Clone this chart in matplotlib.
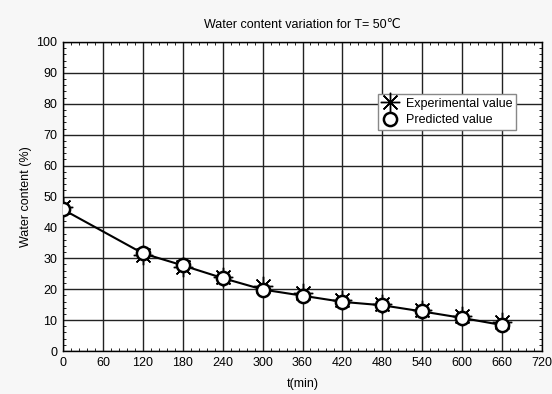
import numpy as np
import matplotlib
matplotlib.use('Agg')
import matplotlib.pyplot as plt
from matplotlib.ticker import MultipleLocator

plt.rcParams['font.family'] = ['Liberation Sans', 'DejaVu Sans']

# data
t_min = [0, 120, 180, 240, 300, 360, 420, 480, 540, 600, 660]
experimental = [46.7, 31.0, 27.3, 24.0, 21.0, 18.9, 16.5, 15.3, 13.2, 11.2, 9.5]
predicted = [45.8, 31.6, 27.7, 23.6, 19.9, 17.9, 15.9, 14.8, 12.8, 10.7, 8.4]

x_ticks = [0, 60, 120, 180, 240, 300, 360, 420, 480, 540, 600, 660, 720]
y_ticks = [0, 10, 20, 30, 40, 50, 60, 70, 80, 90, 100]

fs = 9

fig = plt.figure(figsize=(5.52, 3.94), dpi=100, facecolor='#f7f7f7')
ax = fig.add_axes([63 / 552, 1 - 351 / 394, 479 / 552, 309 / 394])
ax.set_facecolor('white')

ax.plot(t_min, predicted, color='black', linewidth=1.5, zorder=3)
ax.plot(t_min, experimental, linestyle='none', marker=(8, 2, 0), markersize=14,
        markeredgecolor='black', markeredgewidth=1.0, color='black',
        label='Experimental value', zorder=4)
ax.plot(t_min, predicted, linestyle='none', marker='o', markersize=9.5,
        markerfacecolor='white', markeredgecolor='black', markeredgewidth=1.8,
        label='Predicted value', zorder=5)

ax.set_xlim(0, 720)
ax.set_ylim(0, 100)
ax.set_xticks(x_ticks)
ax.set_yticks(y_ticks)
ax.xaxis.set_minor_locator(MultipleLocator(12))
ax.yaxis.set_minor_locator(MultipleLocator(2))
ax.tick_params(which='both', direction='in', top=True, right=True, labelsize=fs,
               colors='black')
ax.tick_params(which='major', length=0, pad=4)
ax.tick_params(which='minor', length=2, width=0.6)
ax.grid(True, which='major', color='#222222', linewidth=1.0)
for s in ax.spines.values():
    s.set_linewidth(1.0)

ax.set_title('Water content variation for T= 50\u2103', fontsize=fs, pad=10)
ax.set_xlabel('t(min)', fontsize=fs, labelpad=7)
ax.set_ylabel('Water content (%)', fontsize=fs, labelpad=3)

leg = ax.legend(loc='upper left', bbox_to_anchor=(0.658, 0.832), borderaxespad=0,
                fontsize=fs, fancybox=False, framealpha=1, edgecolor='#888888',
                handlelength=1.3, handletextpad=0.6, borderpad=0.3, labelspacing=0.35)
leg.get_frame().set_linewidth(1.0)

fig.savefig('out.png', dpi=100, facecolor=fig.get_facecolor())
